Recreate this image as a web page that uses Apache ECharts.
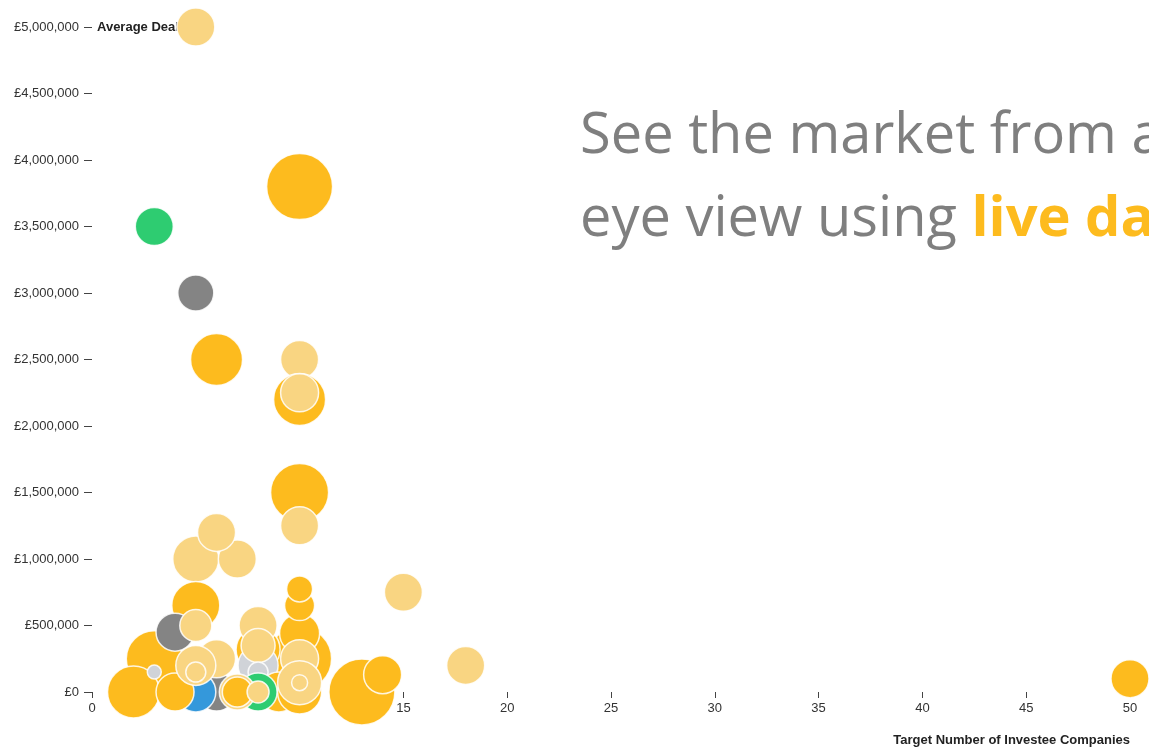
<!DOCTYPE html>
<html>
<head>
<meta charset="utf-8">
<script src="https://cdn.jsdelivr.net/npm/echarts@6/dist/echarts.min.js"></script>
<style>
html,body{margin:0;padding:0;background:#fff;}
#chart{width:1149px;height:749px;}
</style>
</head>
<body>
<div id="chart"></div>
<script>
// Target number of investee companies (x)
const investees = [5,10,3,5,6,10,10,10,10,10,5,7,6,5,15,18,50,3,4,5,10,10,10,10,8,8,8,8,8,2,6,5,4,6,5,5,3,9,10,8,7,7,8,10,10,10,13,14];
// Average deal size in £ (y)
const dealSize = [5000000,3800000,3500000,3000000,2500000,2500000,2200000,2250000,1500000,1250000,1000000,1000000,1200000,650000,750000,200000,100000,250000,450000,500000,250000,440000,650000,775000,320000,500000,200000,350000,150000,0,0,0,0,250000,200000,150000,150000,0,0,0,0,0,0,250000,70000,70000,0,130000];
// Bubble magnitude (radius units)
const bubbleSize = [19,33,19,18,26,19,26,19,29,19,23,19,19,24,19,19,19,28,19,16,32,20,15,13,22,19,20,17,10,26,19,20,19,19,20,10,7,20,22,19,18,15,11,19,22,8,33,19];
// Fund group per bubble
const group = ['light','orange','green','grey','orange','light','orange','light','orange','light','light','light','light','orange','light','light','orange','orange','grey','light','orange','orange','orange','orange','orange','light','silver','light','silver','orange','grey','blue','orange','light','light','light','silver','orange','orange','green','light','orange','light','light','light','light','orange','orange'];
const xTicks = {min:0, max:50, interval:5};
const yTicks = {min:0, max:5000000, interval:500000};

const palette = {
  orange:'#FDBB1E', light:'#F9D582', grey:'#848484', green:'#2ECC71', blue:'#3498DB', silver:'#D0D3D8'
};

const data = investees.map((x,i)=>({
  value:[x, dealSize[i]],
  itemStyle:{color: palette[group[i]]}
}));

const chart = echarts.init(document.getElementById('chart'), null, {renderer:'canvas'});
const labelFont = '"Liberation Sans", Arial, sans-serif';
chart.setOption({
  animation:false,
  backgroundColor:'#ffffff',
  grid:{left:92, right:19, top:27, bottom:57, containLabel:false},
  xAxis:{
    type:'value', min:xTicks.min, max:xTicks.max, interval:xTicks.interval,
    axisLine:{show:false},
    axisTick:{show:true, length:6, lineStyle:{color:'#444', width:1}},
    axisLabel:{color:'#333', fontSize:13, fontFamily:labelFont, margin:10},
    splitLine:{show:false}
  },
  yAxis:{
    type:'value', min:yTicks.min, max:yTicks.max, interval:yTicks.interval,
    axisLine:{show:false},
    axisTick:{show:true, length:8, lineStyle:{color:'#444', width:1}},
    axisLabel:{color:'#333', fontSize:13, fontFamily:labelFont, margin:13,
      formatter:v=>'£' + v.toLocaleString('en-GB')},
    splitLine:{show:false}
  },
  graphic:[
    {type:'text', left:97, top:21, z:0, style:{text:'Average Deal Size', font:'bold 13px '+labelFont, fill:'#222'}},
    {type:'text', right:19, top:734, z:0, style:{text:'Target Number of Investee Companies', font:'bold 13px '+labelFont, fill:'#222'}},
    {type:'text', x:580, y:109, z:0, style:{text:'See the market from a bird\u2019s', font:'56px "Open Sans", sans-serif', fill:'#7f7f7f', verticalAlign:'top'}},
    {type:'text', x:580, y:192, z:0, style:{
      text:'{a|eye view using }{b|live data}',
      verticalAlign:'top',
      rich:{
        a:{font:'56px "Open Sans", sans-serif', fill:'#7f7f7f', color:'#7f7f7f'},
        b:{font:'bold 56px "Open Sans", sans-serif', fill:'#FDBB1E', color:'#FDBB1E'}
      }
    }}
  ],
  series:[{
    type:'scatter',
    clip:false,
    data:data,
    symbolSize:(val, params)=>bubbleSize[params.dataIndex]*2,
    itemStyle:{borderColor:'rgba(255,255,255,0.85)', borderWidth:1.5, opacity:1},
    emphasis:{disabled:true}
  }]
});
</script>
</body>
</html>
